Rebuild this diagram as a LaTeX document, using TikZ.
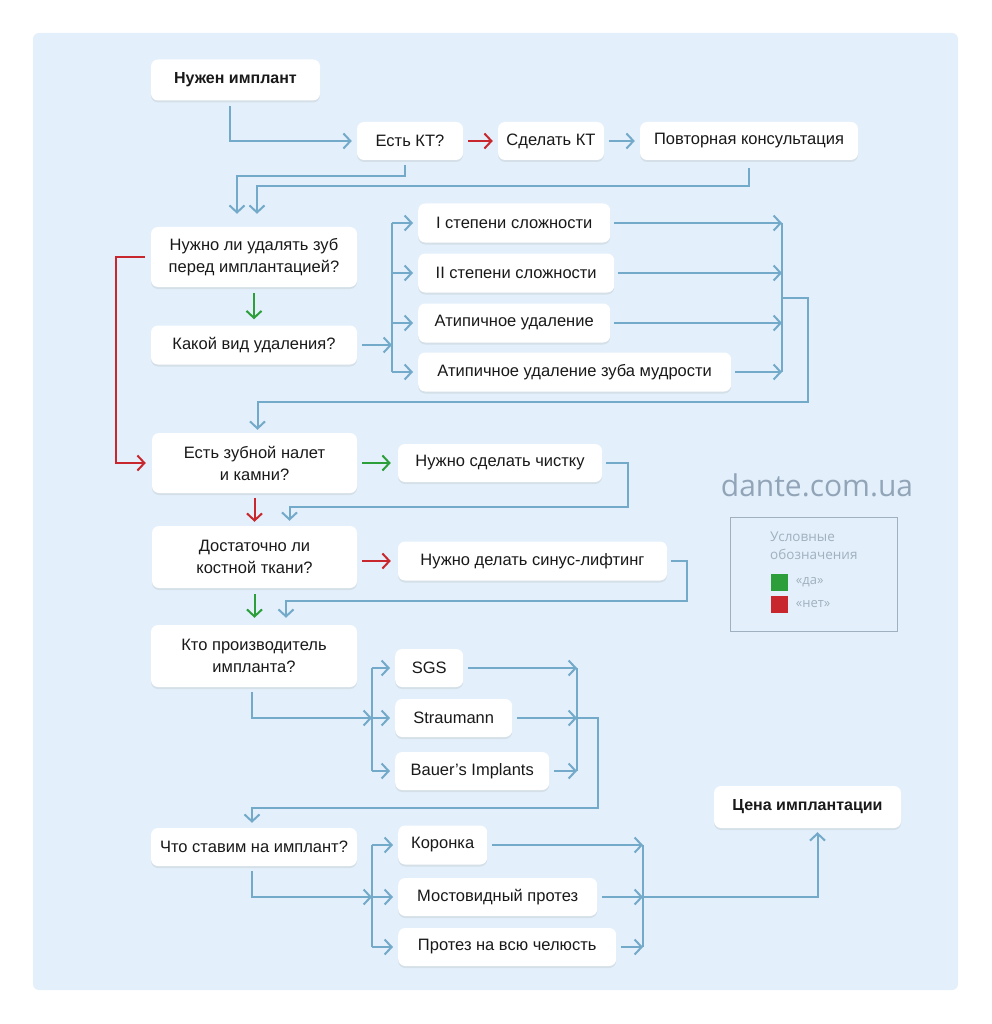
\documentclass[tikz,border=0pt]{standalone}
\usepackage{fontspec}
\setmainfont{Liberation Sans}
\newfontfamily\wmfont{Open Sans}
\usetikzlibrary{arrows.meta, positioning, shadows}
\definecolor{flowblue}{RGB}{116,170,201}
\definecolor{nored}{RGB}{200,40,45}
\definecolor{yesgreen}{RGB}{44,158,58}
\definecolor{bgblue}{RGB}{227,240,251}
\definecolor{ink}{RGB}{25,25,25}
\definecolor{wmgray}{RGB}{146,165,184}
\definecolor{legendgray}{RGB}{160,176,190}

\tikzset{
  box/.style={fill=white, rounded corners=7pt, align=center, inner sep=0pt,
    font=\fontsize{16.5}{22}\selectfont, text=ink,
    drop shadow={shadow xshift=0pt, shadow yshift=-2pt, opacity=0.15}},
  flow/.style={draw=flowblue, line width=2pt, -{Straight Barb[length=7pt,width=15pt]}},
  busline/.style={draw=flowblue, line width=2pt},
  noarrow/.style={flow, draw=nored},
  yesarrow/.style={flow, draw=yesgreen},
  padded/.style={shorten <=5pt, shorten >=5pt}
}

\begin{document}
\begin{tikzpicture}[x=1pt, y=-1pt]
  \useasboundingbox (0,0) rectangle (991,1024);
  \fill[white] (0,0) rectangle (991,1024);
  \fill[bgblue, rounded corners=6pt] (33,33) rectangle (958,990);

  % Start and CT
  \node[box, font=\fontsize{16}{22}\selectfont\bfseries, minimum width=169, minimum height=41] (need) at (235.5,80) {Нужен имплант};
  \node[box, minimum width=106, minimum height=38] (ct) at (410,141) {Есть КТ?};
  \node[box, minimum width=106, minimum height=38] (makect) at (551,141) {Сделать КТ};
  \node[box, minimum width=218, minimum height=38] (consult) at (749,141) {Повторная консультация};

  % Extraction
  \node[box, minimum width=206, minimum height=60] (extract) at (254,257) {Нужно ли удалять зуб\\перед имплантацией?};
  \node[box, minimum width=206, minimum height=39] (extype) at (254,345) {Какой вид удаления?};
  \node[box, anchor=west, minimum width=192, minimum height=39] (deg1) at (418,223) {I степени сложности};
  \node[box, anchor=west, minimum width=196, minimum height=39] (deg2) at (418,273) {II степени сложности};
  \node[box, anchor=west, minimum width=192, minimum height=39] (atyp) at (418,323) {Атипичное удаление};
  \node[box, anchor=west, minimum width=313, minimum height=39] (wisdom) at (418,372) {Атипичное удаление зуба мудрости};

  % Plaque and bone
  \node[box, minimum width=205, minimum height=60] (plaque) at (254.5,463) {Есть зубной налет\\и камни?};
  \node[box, minimum width=204, minimum height=38] (clean) at (500,463) {Нужно сделать чистку};
  \node[box, minimum width=205, minimum height=62] (bone) at (254.5,557) {Достаточно ли\\костной ткани?};
  \node[box, minimum width=269, minimum height=39] (sinus) at (532.5,561) {Нужно делать синус-лифтинг};

  % Implant maker
  \node[box, minimum width=206, minimum height=62] (maker) at (254,656) {Кто производитель\\импланта?};
  \node[box, anchor=west, minimum width=68, minimum height=38] (sgs) at (395,668) {SGS};
  \node[box, anchor=west, minimum width=117, minimum height=38] (straum) at (395,718) {Straumann};
  \node[box, anchor=west, minimum width=154, minimum height=38] (bauer) at (395,771) {Bauer’s Implants};

  % Prosthesis
  \node[box, minimum width=206, minimum height=38] (put) at (254,847) {Что ставим на имплант?};
  \node[box, anchor=west, minimum width=89, minimum height=39] (crown) at (398,845) {Коронка};
  \node[box, anchor=west, minimum width=199, minimum height=38] (bridge) at (398,897) {Мостовидный протез};
  \node[box, anchor=west, minimum width=218, minimum height=38] (jaw) at (398,947) {Протез на всю челюсть};
  \node[box, font=\fontsize{16}{22}\selectfont\bfseries, minimum width=187, minimum height=42] (price) at (807.5,807) {Цена имплантации};

  % Bus coordinates
  \coordinate (lbus) at (392,223);
  \coordinate (rbus) at (782,223);
  \coordinate (rout) at (782,298);
  \coordinate (mbus) at (372,668);
  \coordinate (nbus) at (577,668);
  \coordinate (pbus) at (372,845);
  \coordinate (qbus) at (643,847);

  % Top connectors
  \draw[flow, padded] ([xshift=-6pt]need.south) |- (ct.west);
  \draw[noarrow, padded] (ct) -- (makect);
  \draw[flow, padded] (makect) -- (consult);
  \draw[flow, shorten <=5pt, shorten >=13pt] ([xshift=-5pt]ct.south) -- ++(0,16) -| ([xshift=-17pt]extract.north);
  \draw[flow, shorten <=8pt, shorten >=13pt] (consult.south) -- ++(0,26) -| ([xshift=3pt]extract.north);

  % Extraction branch
  \draw[noarrow, shorten <=6pt, shorten >=6pt] (extract.west) -- ++(-35,0) |- (plaque.west);
  \draw[yesarrow, shorten <=6pt, shorten >=6pt] (extract.south) -- (extype.north);
  \draw[flow, shorten <=5pt] (extype.east) -- (extype.east -| lbus);
  \draw[busline] (lbus) -- (lbus |- wisdom.west);
  \foreach \n in {deg1,deg2,atyp,wisdom}
    \draw[flow, shorten >=5pt] (lbus |- \n.west) -- (\n.west);
  \foreach \n in {deg1,deg2,atyp,wisdom}
    \draw[flow, shorten <=4pt] (\n.east) -- (\n.east -| rbus);
  \draw[busline] (rbus) -- (rbus |- wisdom.east);
  \draw[flow, shorten >=3pt] (rout) -| ++(26,104) -| ([xshift=3pt]plaque.north);

  % Plaque and bone branch
  \draw[yesarrow, shorten <=5pt, shorten >=7pt] (plaque.east) -- (plaque.east -| clean.west);
  \draw[noarrow, shorten <=5pt, shorten >=4pt] (plaque.south) -- (bone.north);
  \draw[flow, shorten <=4pt, shorten >=5pt] (clean.east) -| ++(26,44) -| ([xshift=35pt]bone.north);
  \draw[noarrow, shorten <=5pt, shorten >=7pt] (bone.east |- sinus.west) -- (sinus.west);
  \draw[flow, shorten <=4pt, shorten >=7pt] (sinus.east) -| ++(20,40) -| ([xshift=32pt]maker.north);
  \draw[yesarrow, shorten <=6pt, shorten >=7pt] (bone.south) -- (bone.south |- maker.north);

  % Maker branch
  \draw[flow, shorten <=5pt] ([xshift=-2pt]maker.south) |- (mbus |- straum.west);
  \draw[busline] (mbus) -- (mbus |- bauer.west);
  \foreach \n in {sgs,straum,bauer}
    \draw[flow, shorten >=5pt] (mbus |- \n.west) -- (\n.west);
  \foreach \n in {sgs,straum,bauer}
    \draw[flow, shorten <=5pt] (\n.east) -- (\n.east -| nbus);
  \draw[busline] (nbus) -- (nbus |- bauer.east);
  \draw[flow, shorten >=5pt] (nbus |- straum.east) -| ++(21,90) -| ([xshift=-2pt]put.north);

  % Prosthesis branch
  \draw[flow, shorten <=5pt] ([xshift=-2pt]put.south) |- (pbus |- bridge.west);
  \draw[busline] (pbus) -- (pbus |- jaw.west);
  \foreach \n in {crown,bridge,jaw}
    \draw[flow, shorten >=5pt] (pbus |- \n.west) -- (\n.west);
  \foreach \n in {crown,bridge,jaw}
    \draw[flow, shorten <=5pt] (\n.east) -- (\n.east -| qbus);
  \draw[busline] (qbus |- crown.east) -- (qbus |- jaw.east);
  \draw[flow, shorten >=4pt] (qbus |- bridge.east) -| ([xshift=10pt]price.south);

  % Watermark and legend
  \node[font=\wmfont\fontsize{30}{30}\selectfont, text=wmgray] (site) at (817,485) {dante.com.ua};
  \node[draw=legendgray, line width=0.8pt, minimum width=167, minimum height=114] (legend) at (813.5,574) {};
  \node[anchor=north west, align=left, inner sep=0pt, font=\wmfont\fontsize{13.5}{18}\selectfont, text=legendgray] (legtitle) at (770,532) {Условные\\обозначения};
  \node[fill=yesgreen, minimum size=17, inner sep=0pt] (legyes) at (779,582) {};
  \node[fill=nored, minimum size=17, inner sep=0pt] (legno) at (779,604) {};
  \node[right=8pt of legyes, inner sep=0pt, font=\wmfont\fontsize{13}{18}\selectfont, text=legendgray] (legyestext) {«да»};
  \node[right=8pt of legno, inner sep=0pt, font=\wmfont\fontsize{13}{18}\selectfont, text=legendgray] (legnotext) {«нет»};
\end{tikzpicture}
\end{document}
